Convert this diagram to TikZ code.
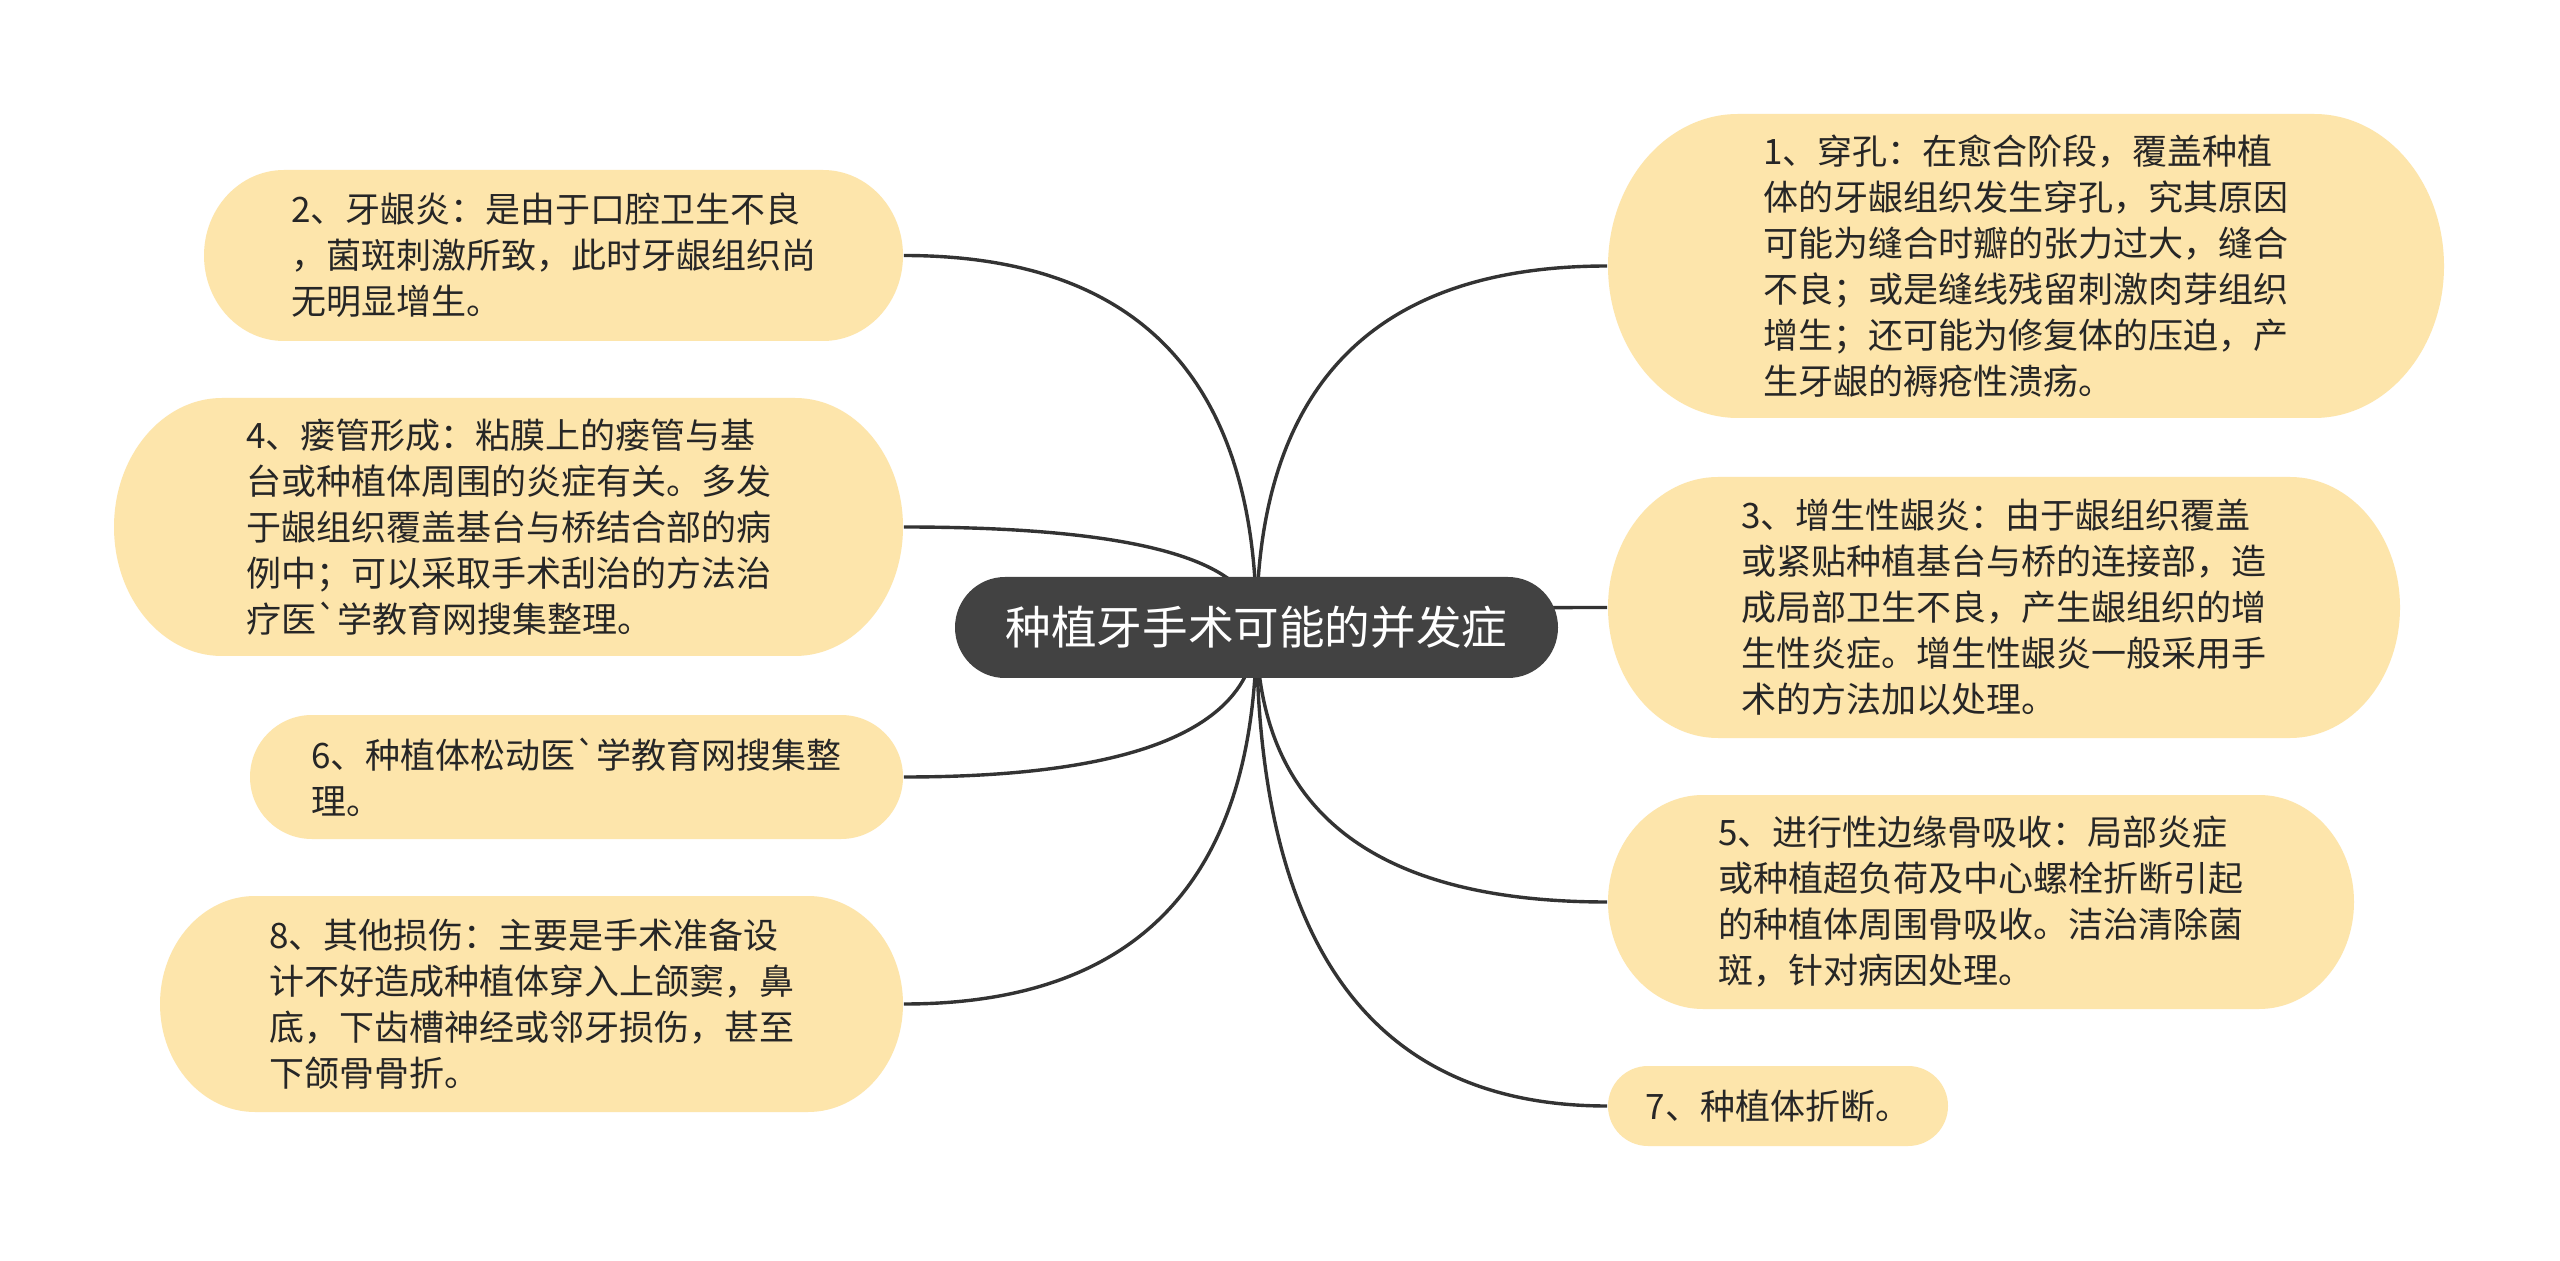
\documentclass[tikz,border=0pt]{standalone}
\usepackage{fontspec}
\newfontfamily\cjk{Noto Sans CJK SC}
\usetikzlibrary{calc}
\definecolor{leaffill}{HTML}{FDE5AB}
\definecolor{rootfill}{HTML}{424242}
\definecolor{linecol}{HTML}{333333}
\definecolor{txtcol}{HTML}{262626}
\pgfdeclarelayer{bg}
\pgfsetlayers{bg,main}
% #1 fill style, #2 text style, #3 name, #4 cx, #5 cy, #6 w, #7 h, #8 rx, #9 text  (px, y downwards)
\newcommand\mmnode[9]{%
  \fill[#1] ({#4-#6/2+#8},{-#5+#7/2}) -- ({#4+#6/2-#8},{-#5+#7/2})
    arc[start angle=90,end angle=-90,x radius=#8,y radius=#7/2]
    -- ({#4-#6/2+#8},{-#5-#7/2})
    arc[start angle=270,end angle=90,x radius=#8,y radius=#7/2] -- cycle;
  \node[#2,minimum width=#6*0.25pt,minimum height=#7*0.25pt] (#3) at (#4,-#5) {#9};%
}
\begin{document}
\begin{tikzpicture}[x=0.25pt,y=0.25pt,
  leafbg/.style={fill=leaffill},
  rootbg/.style={fill=rootfill},
  leaftext/.style={inner sep=0pt,align=left,text=txtcol,font=\cjk\fontsize{8.75pt}{11.5pt}\selectfont},
  roottext/.style={inner sep=0pt,align=center,text=white,font=\cjk\fontsize{11.4pt}{13pt}\selectfont},
  conn/.style={draw=linecol,line width=0.85pt}]
\useasboundingbox (0,0) rectangle (2560,-1261);

\mmnode{rootbg}{roottext}{root}{1256.5}{627.5}{603}{101}{50}{种植牙手术可能的并发症}

\mmnode{leafbg}{leaftext}{n2}{553.5}{255.5}{699}{171}{80}{2、牙龈炎：是由于口腔卫生不良\\，菌斑刺激所致，此时牙龈组织尚\\无明显增生。}
\mmnode{leafbg}{leaftext}{n4}{508.5}{527}{789}{258}{108}{4、瘘管形成：粘膜上的瘘管与基\\台或种植体周围的炎症有关。多发\\于龈组织覆盖基台与桥结合部的病\\例中；可以采取手术刮治的方法治\\疗医`学教育网搜集整理。}
\mmnode{leafbg}{leaftext}{n6}{576.5}{777}{653}{124}{62}{6、种植体松动医`学教育网搜集整\\理。}
\mmnode{leafbg}{leaftext}{n8}{531.5}{1004}{743}{216}{95}{8、其他损伤：主要是手术准备设\\计不好造成种植体穿入上颌窦，鼻\\底，下齿槽神经或邻牙损伤，甚至\\下颌骨骨折。}

\mmnode{leafbg}{leaftext}{n1}{2026}{266}{836}{304}{130}{1、穿孔：在愈合阶段，覆盖种植\\体的牙龈组织发生穿孔，究其原因\\可能为缝合时瓣的张力过大，缝合\\不良；或是缝线残留刺激肉芽组织\\增生；还可能为修复体的压迫，产\\生牙龈的褥疮性溃疡。}
\mmnode{leafbg}{leaftext}{n3}{2004}{607.5}{792}{261}{110}{3、增生性龈炎：由于龈组织覆盖\\或紧贴种植基台与桥的连接部，造\\成局部卫生不良，产生龈组织的增\\生性炎症。增生性龈炎一般采用手\\术的方法加以处理。}
\mmnode{leafbg}{leaftext}{n5}{1981}{902}{746}{214}{95}{5、进行性边缘骨吸收：局部炎症\\或种植超负荷及中心螺栓折断引起\\的种植体周围骨吸收。洁治清除菌\\斑，针对病因处理。}
\mmnode{leafbg}{leaftext}{n7}{1778}{1106}{340}{80}{40}{7、种植体折断。}

\begin{pgfonlayer}{bg}
\fill[white] (0,0) rectangle (2560,-1261);
\foreach \n in {n1,n3,n5,n7}{
  \coordinate (k\n) at (root.center |- \n.west);
  \draw[conn] (root.center) .. controls ($(root.center)!0.667!(k\n)$) and ($(\n.west)!0.667!(k\n)$) .. (\n.west);
}
\foreach \n in {n2,n4,n6,n8}{
  \coordinate (k\n) at (root.center |- \n.east);
  \draw[conn] (root.center) .. controls ($(root.center)!0.667!(k\n)$) and ($(\n.east)!0.667!(k\n)$) .. (\n.east);
}
\end{pgfonlayer}
\end{tikzpicture}
\end{document}
